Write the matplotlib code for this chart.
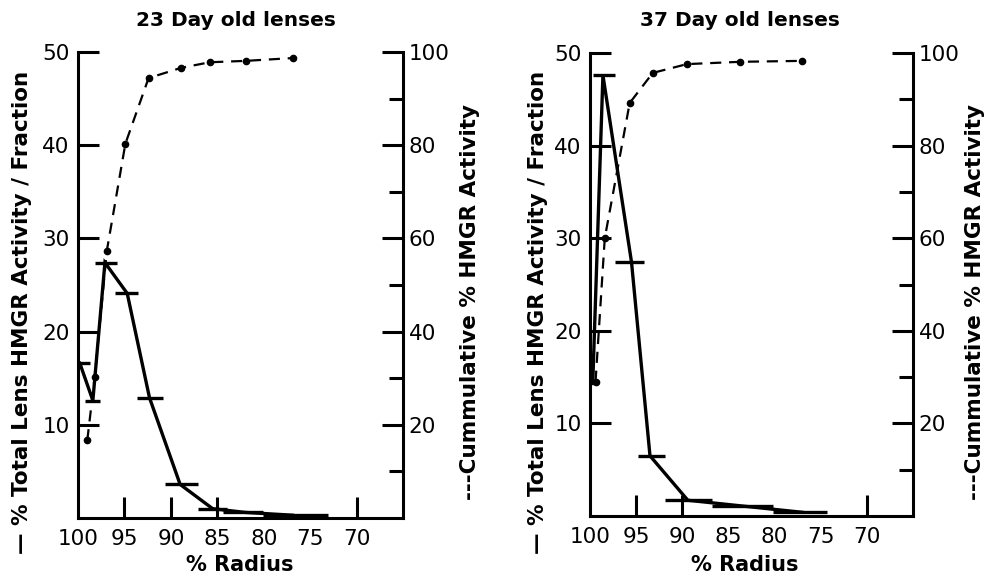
import matplotlib
matplotlib.use("Agg")
import matplotlib.pyplot as plt

# ---- data: 23 day old lenses ----
frac23_x = [99.8, 98.4, 97.1, 94.7, 92.3, 89.0, 85.5, 82.0, 76.9]
frac23_y = [16.6, 12.6, 27.4, 24.1, 12.9, 3.6, 1.0, 0.6, 0.3]
bar23_lo = [100.0, 99.2, 98.2, 96.0, 93.7, 90.6, 87.1, 84.4, 80.1]
bar23_hi = [98.7, 97.6, 95.8, 93.5, 90.8, 87.1, 84.0, 80.1, 73.1]
cum23_x = [99.0, 98.2, 96.9, 94.9, 92.4, 88.9, 85.8, 81.9, 76.9]
cum23_y = [16.7, 30.2, 57.3, 80.3, 94.4, 96.6, 97.8, 98.1, 98.7]

# ---- data: 37 day old lenses ----
frac37_x = [99.7, 98.6, 95.5, 93.5, 89.4, 83.7, 77.0]
frac37_y = [14.4, 47.6, 27.4, 6.5, 1.7, 1.1, 0.4]
bar37_lo = [100.0, 99.7, 97.3, 94.8, 91.9, 86.8, 80.2]
bar37_hi = [99.1, 97.3, 94.1, 91.9, 86.8, 80.2, 74.3]
cum37_x = [99.4, 98.4, 95.7, 93.2, 89.5, 83.7, 77.0]
cum37_y = [29.0, 60.0, 89.2, 95.7, 97.6, 98.1, 98.3]

x_ticks = [100, 95, 90, 85, 80, 75, 70]
left_ticks = [10, 20, 30, 40, 50]
right_major = [20, 40, 60, 80, 100]
right_minor = [10, 30, 50, 70, 90]

titles = ["23 Day old lenses", "37 Day old lenses"]
left_label = "\u2014 % Total Lens HMGR Activity / Fraction"
right_label = "---Cummulative % HMGR Activity"
x_label = "% Radius"

plt.rcParams['font.family'] = ['DejaVu Sans']

fig = plt.figure(figsize=(9.95, 5.79), dpi=100)

panels = [
    dict(rect=[78/995, 1-518/579, 325/995, 466/579],
         fx=frac23_x, fy=frac23_y, lo=bar23_lo, hi=bar23_hi,
         cx=cum23_x, cy=cum23_y, title=titles[0], hidden=[100, 80, 75],
         title_x=236/995, ylab_x=22/995, rlab_x=470/995, xlab_x=240/995),
    dict(rect=[590/995, 1-516/579, 323/995, 463/579],
         fx=frac37_x, fy=frac37_y, lo=bar37_lo, hi=bar37_hi,
         cx=cum37_x, cy=cum37_y, title=titles[1], hidden=[100, 85, 80, 75],
         title_x=740/995, ylab_x=538/995, rlab_x=975/995, xlab_x=745/995),
]

lw_axis = 2.2
for p in panels:
    ax = fig.add_axes(p['rect'])
    ax2 = ax.twinx()
    ax.set_xlim(100, 65)
    ax.set_ylim(0, 50)
    ax2.set_ylim(0, 100)

    # solid fraction line with horizontal fraction bars
    ax.plot(p['fx'], p['fy'], color='black', lw=2.4, solid_joinstyle='miter',
            zorder=3, clip_on=False)
    ax.hlines(p['fy'], p['lo'], p['hi'], color='black', lw=2.4, zorder=3)

    # cumulative dashed line with dots
    ax2.plot(p['cx'], p['cy'], color='black', lw=1.6, ls=(0, (5, 3.5)),
             marker='o', ms=4.5, zorder=3)

    for a in (ax, ax2):
        a.spines['top'].set_visible(False)
        for s in ('left', 'right', 'bottom'):
            a.spines[s].set_linewidth(lw_axis)
    ax.spines['right'].set_visible(False)
    ax2.spines['left'].set_visible(False)
    ax2.spines['bottom'].set_visible(False)

    ax.set_xticks(x_ticks)
    ax.set_xticklabels([str(v) for v in x_ticks])
    ax.set_yticks(left_ticks)
    ax.set_yticklabels([str(v) for v in left_ticks])
    ax.tick_params(axis='both', direction='in', length=15, width=lw_axis,
                   labelsize=15.5, pad=6)
    ax.tick_params(axis='x', pad=8)
    for val, t in zip(x_ticks, ax.xaxis.get_major_ticks()):
        if val in p['hidden']:
            t.tick1line.set_visible(False)

    ax2.set_yticks(right_major)
    ax2.set_yticklabels([str(v) for v in right_major])
    ax2.set_yticks(right_minor, minor=True)
    ax2.tick_params(axis='y', which='major', direction='in', length=15,
                    width=lw_axis, labelsize=15.5, pad=4)
    ax2.tick_params(axis='y', which='minor', direction='in', length=10,
                    width=lw_axis)

    fig.text(p['title_x'], 1 - 20/579, p['title'], ha='center', va='center',
             fontsize=14.5, fontweight='bold')
    fig.text(p['xlab_x'], 1 - 565/579, x_label, ha='center', va='center',
             fontsize=15, fontweight='bold')
    fig.text(p['ylab_x'], 1 - 312/579, left_label, ha='center', va='center',
             rotation=90, fontsize=15.5, fontweight='bold')
    fig.text(p['rlab_x'], 1 - 302/579, right_label, ha='center', va='center',
             rotation=90, fontsize=15.5, fontweight='bold')

fig.savefig("out.png", dpi=100)
